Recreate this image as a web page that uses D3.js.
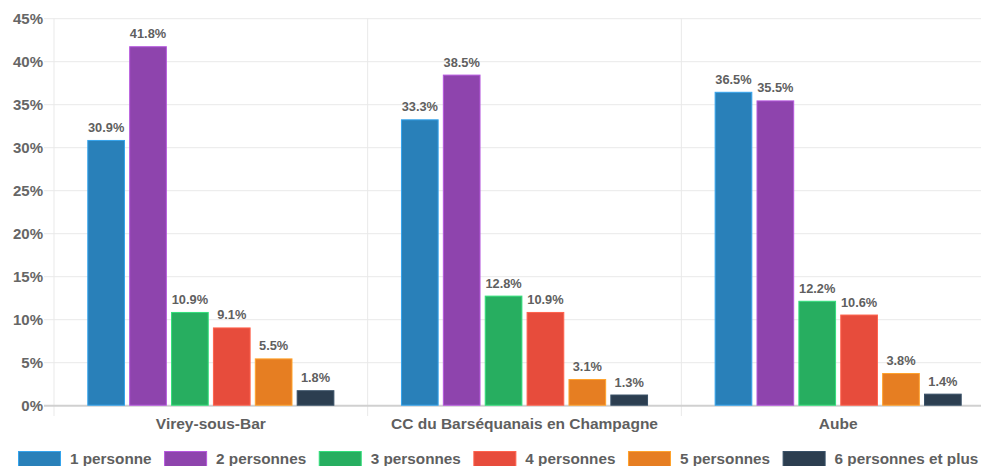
<!DOCTYPE html>
<html>
<head>
<meta charset="utf-8">
<script src="https://cdn.jsdelivr.net/npm/d3@7"></script>
<style>
  body { margin: 0; background: #fff; }
  svg { display: block; font-family: "Liberation Sans", Arial, sans-serif; }
</style>
</head>
<body>
<svg id="chart" width="981" height="466"></svg>
<script>
// data
const categories = ["Virey-sous-Bar", "CC du Barséquanais en Champagne", "Aube"];
const series = ["1 personne", "2 personnes", "3 personnes", "4 personnes", "5 personnes", "6 personnes et plus"];
const colors = ["#2980b9", "#8e44ad", "#27ae60", "#e74c3c", "#e67e22", "#2c3e50"];
const values = [
    [30.9, 41.8, 10.9, 9.1, 5.5, 1.8],   // Virey-sous-Bar
    [33.3, 38.5, 12.8, 10.9, 3.1, 1.3],  // CC du Barséquanais
    [36.5, 35.5, 12.2, 10.6, 3.8, 1.4]   // Aube
];
const yTicks = [0, 5, 10, 15, 20, 25, 30, 35, 40, 45];

const svg = d3.select("#chart");

const margin = {top: 18.7, left: 54, bottom: 405.7},
    plotRight = 995;

const x0 = d3.scaleBand()
    .domain(categories)
    .range([margin.left, plotRight])
    .padding(0);

const pad = 31.2;
const x1 = d3.scaleBand()
    .domain(series)
    .range([pad, x0.bandwidth() - pad])
    .paddingInner(0.1)
    .paddingOuter(0.05);

const y = d3.scaleLinear()
    .domain([0, 45])
    .range([margin.bottom, margin.top]);

const color = d3.scaleOrdinal().domain(series).range(colors);

// horizontal grid
svg.append("g")
    .selectAll("line")
    .data(yTicks.filter(d => d > 0))
    .join("line")
    .attr("x1", 44).attr("x2", plotRight)
    .attr("y1", d => y(d)).attr("y2", d => y(d))
    .attr("stroke", "#e9e9e9")
    .attr("stroke-width", 1);

// vertical separators
svg.append("g")
    .selectAll("line")
    .data(categories.concat(["end"]))
    .join("line")
    .attr("x1", (d, i) => margin.left + i * x0.step())
    .attr("x2", (d, i) => margin.left + i * x0.step())
    .attr("y1", margin.top).attr("y2", 416)
    .attr("stroke", "#e9e9e9")
    .attr("stroke-width", 1);

// baseline
svg.append("line")
    .attr("x1", 44).attr("x2", plotRight)
    .attr("y1", y(0)).attr("y2", y(0))
    .attr("stroke", "#d0d0d0")
    .attr("stroke-width", 2);

// y labels
svg.append("g")
    .selectAll("text")
    .data(yTicks)
    .join("text")
    .attr("x", 43)
    .attr("y", d => y(d))
    .attr("dy", "0.35em")
    .attr("text-anchor", "end")
    .attr("font-size", 15)
    .attr("font-weight", "bold")
    .attr("fill", "#666")
    .text(d => d + "%");

// bars
const groups = svg.append("g")
    .selectAll("g")
    .data(categories)
    .join("g")
    .attr("transform", d => "translate(" + x0(d) + ",0)");

groups.selectAll("rect")
    .data((d, i) => series.map((s, j) => ({s: s, v: values[i][j]})))
    .join("rect")
    .attr("x", d => x1(d.s) + 0.5)
    .attr("y", d => y(d.v) + 0.5)
    .attr("width", x1.bandwidth() - 1)
    .attr("height", d => y(0) - y(d.v) - 1)
    .attr("fill", d => color(d.s))
    .attr("stroke", d => d3.color(color(d.s)).brighter(0.7))
    .attr("stroke-width", 1);

groups.selectAll("text")
    .data((d, i) => series.map((s, j) => ({s: s, v: values[i][j]})))
    .join("text")
    .attr("x", d => x1(d.s) + x1.bandwidth() / 2)
    .attr("y", d => y(d.v) - 8)
    .attr("text-anchor", "middle")
    .attr("font-size", 12.8)
    .attr("font-weight", "bold")
    .attr("fill", "#5f5f5f")
    .text(d => d.v.toFixed(1) + "%");

// category labels
svg.append("g")
    .selectAll("text")
    .data(categories)
    .join("text")
    .attr("x", d => x0(d) + x0.bandwidth() / 2)
    .attr("y", 428.5)
    .attr("text-anchor", "middle")
    .attr("font-size", 15.5)
    .attr("font-weight", "bold")
    .attr("fill", "#5f5f5f")
    .text(d => d);

// legend
const legend = svg.append("g");
let lx = 18;
series.forEach(function (s) {
    legend.append("rect")
        .attr("x", lx + 0.5).attr("y", 451.5)
        .attr("width", 42).attr("height", 16)
        .attr("fill", color(s))
        .attr("stroke", d3.color(color(s)).brighter(0.7));
    const t = legend.append("text")
        .attr("x", lx + 52)
        .attr("y", 464)
        .attr("font-size", 15.3)
        .attr("font-weight", "bold")
        .attr("fill", "#5f5f5f")
        .text(s);
    lx += 52 + t.node().getComputedTextLength() + 12.5;
});
</script>
</body>
</html>
